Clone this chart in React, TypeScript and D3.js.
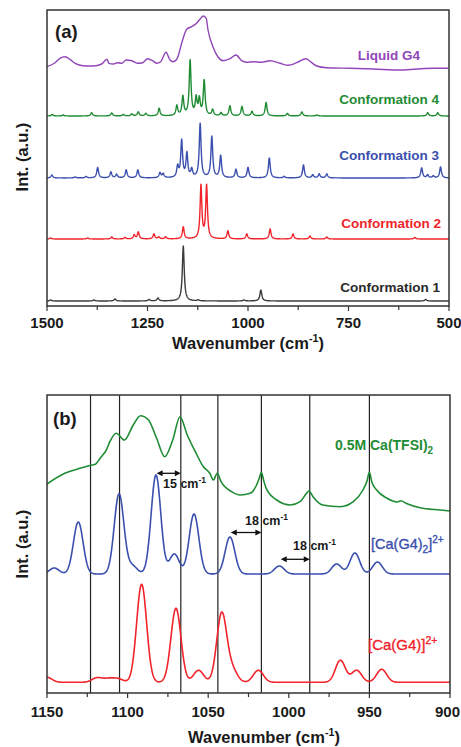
import React from 'react';
import * as d3 from 'd3';

// ---------- Panel (a) data ----------
const ticksA = [1500, 1250, 1000, 750, 500];
const minorTicksA = [1375, 1125, 875, 625];

// Computed Raman spectra: [wavenumber (cm-1), peak height]
const conf1Base = 3;
const conf1Peaks: [number, number][] = [
  [1161, 55], [968, 11], [1331, 2], [1224, 3], [1246, 1.5], [1383, 1], [558, 1.5], [1124, 1], [1010, 1], [1491, 1],
];
const conf2Base = 65;
const conf2Peaks: [number, number][] = [
  [1117, 53], [1103, 53], [1161, 12], [1050, 8], [1003, 5], [945, 10], [888, 5], [846, 3], [804, 2], [585, 1.5],
  [1273, 7], [1283, 4], [1234, 5], [1222, 2], [1205, 2], [1339, 2], [1306, 1.5], [1399, 1], [1491, 1],
];
const conf3Base = 126;
const conf3Peaks: [number, number][] = [
  [1175, 11], [1165, 37], [1152, 24], [1140, 8], [1119, 54], [1090, 41], [1068, 22], [1030, 8.5], [1000, 10.5],
  [947, 20], [910, 1.5], [862, 13], [839, 3], [823, 4], [804, 4], [568, 10], [553, 3], [539, 2], [521, 11],
  [1374, 10.5], [1341, 6], [1327, 3.5], [1303, 8], [1274, 8], [1219, 5], [1211, 4], [1488, 3], [1430, 1], [1403, 1.5],
];
const conf4Base = 188;
const conf4Peaks: [number, number][] = [
  [1177, 10], [1162, 19], [1144, 55], [1129, 17], [1121, 16], [1109, 35], [1088, 6], [1067, 3], [1045, 10],
  [1015, 9.5], [990, 4.5], [955, 13.5], [902, 2.5], [866, 4], [829, 1], [553, 3.3], [528, 3.3], [1221, 7.5],
  [1254, 2.5], [1273, 4], [1289, 2], [1339, 3], [1389, 3.3], [1487, 1.5], [1460, 1], [1310, 1.5],
];
// Experimental liquid G4: traced [wavenumber, intensity]
const liquidG4: [number, number][] = [
  [1500, 237.3], [1480, 241.3], [1468, 245.7], [1455, 247.3], [1443, 244.7], [1430, 240.7], [1410, 238.3],
  [1385, 238], [1364, 240], [1351, 244.7], [1346, 240.7], [1335, 240], [1325, 241.3], [1314, 240.7],
  [1303, 244], [1289, 243.3], [1275, 240.7], [1262, 241.3], [1250, 245.3], [1237, 243.3], [1227, 240.7],
  [1217, 242.3], [1204, 251.7], [1194, 244], [1186, 242.3], [1176, 245.7], [1165, 260.7], [1152.5, 274.7],
  [1140, 277.3], [1128, 280.7], [1119, 285], [1111, 288], [1104, 285.7], [1099.5, 274], [1087, 257],
  [1074.6, 247], [1061.4, 243.3], [1044.8, 245.3], [1029.9, 249], [1015.7, 243.3], [1003.2, 241.7],
  [986.8, 242.3], [965.9, 241.7], [945.3, 243.3], [920.4, 240.7], [899.8, 238.7], [878.9, 241.3],
  [855.7, 245.3], [841.5, 241.3], [829, 238], [804.2, 236.3], [746.3, 235.7], [688.3, 235], [621.9, 234],
  [580.3, 235], [539, 235.7], [501.7, 235.7],
];

// ---------- Panel (b) data ----------
const ticksB = [1150, 1100, 1050, 1000, 950, 900];
const minorTicksB = [1125, 1075, 1025, 975, 925];
const refLines = [1123, 1105, 1067, 1044, 1017, 987, 950];
const arrows: { from: number; to: number; label: string }[] = [
  { from: 1082, to: 1067, label: '15' },
  { from: 1036, to: 1017, label: '18' },
  { from: 1005, to: 987, label: '18' },
];
const tfsi: [number, number][] = [
  [1150, 209], [1139, 219.7], [1131, 224], [1124, 227.3], [1120, 228.7], [1117, 234.7], [1113, 243.7],
  [1111, 251.3], [1107, 259.7], [1102, 253], [1096.5, 268], [1092, 277.3], [1087, 273], [1082, 254.7],
  [1077, 236.3], [1072, 253], [1067.5, 276.3], [1063, 258], [1058, 241.3], [1053, 226.3], [1049, 219.7],
  [1046.8, 213], [1044.4, 219.7], [1042, 211.3], [1035.5, 201.3], [1030, 198], [1024, 199.7], [1020, 208],
  [1018.5, 214], [1017, 220.7], [1015.5, 212], [1014, 204.7], [1007.5, 193], [999, 188], [993, 191.3],
  [989, 199.7], [987.5, 202], [985, 196.3], [979, 188], [968, 186.3], [960, 191.3], [954, 203], [951.5, 212],
  [950, 220.7], [948.5, 211], [945.5, 203], [939, 194.7], [933, 191], [930.5, 192.2], [927, 189.5],
  [918.6, 185.3], [906, 183], [900, 182],
];
const caG42Base = 119;
const caG42Peaks: [number, number][] = [
  [1145.5, 6], [1130.6, 52], [1105.3, 80], [1097, 8], [1082.4, 99], [1071, 20], [1058.8, 60], [1036.5, 37],
  [1005.9, 8], [970.3, 10], [959, 21], [945, 12],
];
const caG4Base = 10.7;
const caG4Peaks: [number, number][] = [
  [1150, 5], [1119, 4.5], [1112, 3.5], [1106, 3.5], [1091.3, 98], [1070, 74], [1056, 12], [1041.6, 69],
  [1035, 12], [1018.9, 12], [968, 22], [957.9, 12], [942.4, 13],
];

// ---------- colours ----------
const PURPLE = '#9146b8';
const GREEN = '#1f8c34';
const BLUE = '#3a4fae';
const RED = '#f0242a';
const GRAY = '#3c3c3c';
const FONT = '"Liberation Sans", Arial, sans-serif';

const A = { left: 47, right: 449, top: 10, bottom: 306 };
const B = { left: 47, right: 450, top: 395, bottom: 693 };

const xA = d3.scaleLinear().domain([1500, 500]).range([A.left, A.right]);
const yA = d3.scaleLinear().domain([0, 294]).range([304, 10]);
const xB = d3.scaleLinear().domain([1150, 900]).range([B.left, B.right]);
const yB = d3.scaleLinear().domain([0, 298]).range([693, 395]);

function lorentz(peaks: [number, number][], base: number, g: number, from: number, to: number) {
  const out: [number, number][] = [];
  for (let w = from; w >= to - 1e-9; w -= 0.5) {
    let v = base;
    for (const [c, h] of peaks) v += h / (1 + ((w - c) / g) ** 2);
    out.push([w, v]);
  }
  return out;
}
function gauss(peaks: [number, number][], base: number, s: number, from: number, to: number) {
  const out: [number, number][] = [];
  for (let w = from; w >= to - 1e-9; w -= 0.25) {
    let v = base;
    for (const [c, h] of peaks) v += h * Math.exp(-((w - c) ** 2) / (2 * s * s));
    out.push([w, v]);
  }
  return out;
}

const lineA = d3.line<[number, number]>().x(d => xA(d[0])).y(d => yA(d[1]));
const lineAsmooth = d3.line<[number, number]>().x(d => xA(d[0])).y(d => yA(d[1])).curve(d3.curveMonotoneX);
const lineB = d3.line<[number, number]>().x(d => xB(d[0])).y(d => yB(d[1]));
const lineBsmooth = d3.line<[number, number]>().x(d => xB(d[0])).y(d => yB(d[1])).curve(d3.curveMonotoneX);

function CmUnit({ size }: { size: number }) {
  return (
    <>
      cm<tspan dy={-size * 0.4} fontSize={size * 0.65}>-1</tspan>
      <tspan dy={size * 0.4}>)</tspan>
    </>
  );
}

export default function App() {
  const a1 = lorentz(conf1Peaks, conf1Base, 2.8, 1500, 500);
  const a2 = lorentz(conf2Peaks, conf2Base, 2.6, 1500, 500);
  const a3 = lorentz(conf3Peaks, conf3Base, 2.7, 1500, 500);
  const a4 = lorentz(conf4Peaks, conf4Base, 2.7, 1500, 500);
  const b2 = gauss(caG42Peaks, caG42Base, 3, 1150, 900);
  const b1 = gauss(caG4Peaks, caG4Base, 3.1, 1150, 900);

  const tickLen = 5;
  const arrowHead = (x: number, y: number, dir: number) =>
    `${x},${y} ${x - dir * 6},${y - 3} ${x - dir * 6},${y + 3}`;

  return (
    <svg width={461} height={747} style={{ position: 'absolute', left: 0, top: 0, background: '#fff' }}
      fontFamily={FONT}>
      <defs>
        <clipPath id="clipA"><rect x={A.left} y={A.top} width={A.right - A.left} height={A.bottom - A.top} /></clipPath>
        <clipPath id="clipB"><rect x={B.left} y={B.top} width={B.right - B.left} height={B.bottom - B.top} /></clipPath>
      </defs>

      {/* ---------- Panel (a) ---------- */}
      <g clipPath="url(#clipA)" fill="none" strokeWidth={1.4} strokeLinejoin="round">
        <path d={lineA(a1)!} stroke={GRAY} />
        <path d={lineA(a2)!} stroke={RED} />
        <path d={lineA(a3)!} stroke={BLUE} />
        <path d={lineA(a4)!} stroke={GREEN} />
        <path d={lineAsmooth(liquidG4)!} stroke={PURPLE} />
      </g>
      <rect x={A.left} y={A.top} width={A.right - A.left} height={A.bottom - A.top} fill="none" stroke="#333" strokeWidth={1.5} />
      {ticksA.map(t => (
        <g key={t}>
          <line x1={xA(t)} x2={xA(t)} y1={A.bottom} y2={A.bottom + tickLen} stroke="#333" strokeWidth={1.2} />
          <text x={xA(t)} y={328} textAnchor="middle" fontSize={15} fontWeight="bold" fill="#1a1a1a">{t}</text>
        </g>
      ))}
      {minorTicksA.map(t => (
        <line key={t} x1={xA(t)} x2={xA(t)} y1={A.bottom} y2={A.bottom + 4} stroke="#333" strokeWidth={1.2} />
      ))}
      <text x={248} y={349} textAnchor="middle" fontSize={16.5} fontWeight="bold" fill="#1a1a1a">
        Wavenumber (<CmUnit size={16.5} />
      </text>
      <text transform="translate(28,157) rotate(-90)" textAnchor="middle" fontSize={16.5} fontWeight="bold" fill="#1a1a1a">Int. (a.u.)</text>
      <text x={55} y={38} fontSize={18.5} fontWeight="bold" fill="#1a1a1a">(a)</text>
      <text x={420} y={60} textAnchor="end" fontSize={13.5} fontWeight="bold" fill={PURPLE}>Liquid G4</text>
      <text x={439} y={104} textAnchor="end" fontSize={13.5} fontWeight="bold" fill={GREEN}>Conformation 4</text>
      <text x={439} y={160} textAnchor="end" fontSize={13.5} fontWeight="bold" fill={BLUE}>Conformation 3</text>
      <text x={441} y={228} textAnchor="end" fontSize={13.5} fontWeight="bold" fill={RED}>Conformation 2</text>
      <text x={440} y={292} textAnchor="end" fontSize={13.5} fontWeight="bold" fill="#2a2a2a">Conformation 1</text>

      {/* ---------- Panel (b) ---------- */}
      {refLines.map(w => (
        <line key={w} x1={xB(w)} x2={xB(w)} y1={B.top} y2={B.bottom} stroke="#222" strokeWidth={1.2} />
      ))}
      <g clipPath="url(#clipB)" fill="none" strokeWidth={1.6} strokeLinejoin="round">
        <path d={lineB(b1)!} stroke={RED} />
        <path d={lineB(b2)!} stroke={BLUE} />
        <path d={lineBsmooth(tfsi)!} stroke={GREEN} />
      </g>
      <rect x={B.left} y={B.top} width={B.right - B.left} height={B.bottom - B.top} fill="none" stroke="#333" strokeWidth={1.5} />
      {ticksB.map((t, i) => {
        const last = i === ticksB.length - 1;
        return (
          <g key={t}>
            <line x1={xB(t)} x2={xB(t)} y1={B.bottom} y2={B.bottom + tickLen} stroke="#333" strokeWidth={1.2} />
            <text x={last ? 460 : xB(t)} y={716.5} textAnchor={last ? 'end' : 'middle'} fontSize={15} fontWeight="bold" fill="#1a1a1a">{t}</text>
          </g>
        );
      })}
      {minorTicksB.map(t => (
        <line key={t} x1={xB(t)} x2={xB(t)} y1={B.bottom} y2={B.bottom + 4} stroke="#333" strokeWidth={1.2} />
      ))}
      <text x={264} y={743} textAnchor="middle" fontSize={16.5} fontWeight="bold" fill="#1a1a1a">
        Wavenumber (<CmUnit size={16.5} />
      </text>
      <text transform="translate(28,544) rotate(-90)" textAnchor="middle" fontSize={16.5} fontWeight="bold" fill="#1a1a1a">Int. (a.u.)</text>
      <text x={53} y={425} fontSize={18.5} fontWeight="bold" fill="#1a1a1a">(b)</text>

      {arrows.map((ar, i) => {
        const ys = [473.3, 532.5, 559.3];
        const ly = [488, 525, 550];
        const lx = [163, 245, 293];
        const x1 = xB(ar.from), x2 = xB(ar.to), y = ys[i];
        return (
          <g key={i}>
            <line x1={x1 + 4} x2={x2 - 4} y1={y} y2={y} stroke="#111" strokeWidth={1.3} />
            <polygon points={arrowHead(x2, y, 1)} fill="#111" />
            <polygon points={arrowHead(x1, y, -1)} fill="#111" />
            <text x={lx[i]} y={ly[i]} fontSize={12.5} fontWeight="bold" fill="#1a1a1a">
              {ar.label} cm<tspan dy={-5} fontSize={8.5}>-1</tspan>
            </text>
          </g>
        );
      })}

      <text x={335} y={450} fontSize={14} fontWeight="bold" fill={GREEN}>
        0.5M Ca(TFSI)<tspan dy={4} fontSize={10}>2</tspan>
      </text>
      <text x={371} y={549} fontSize={14.5} fill={BLUE} stroke={BLUE} strokeWidth={0.35}>
        [Ca(G4)<tspan dy={4} fontSize={10}>2</tspan><tspan dy={-4}>]</tspan><tspan dy={-6} fontSize={10}>2+</tspan>
      </text>
      <text x={368} y={650} fontSize={15} fill={RED} stroke={RED} strokeWidth={0.35}>
        [Ca(G4)]<tspan dy={-6} fontSize={10.5}>2+</tspan>
      </text>
    </svg>
  );
}
